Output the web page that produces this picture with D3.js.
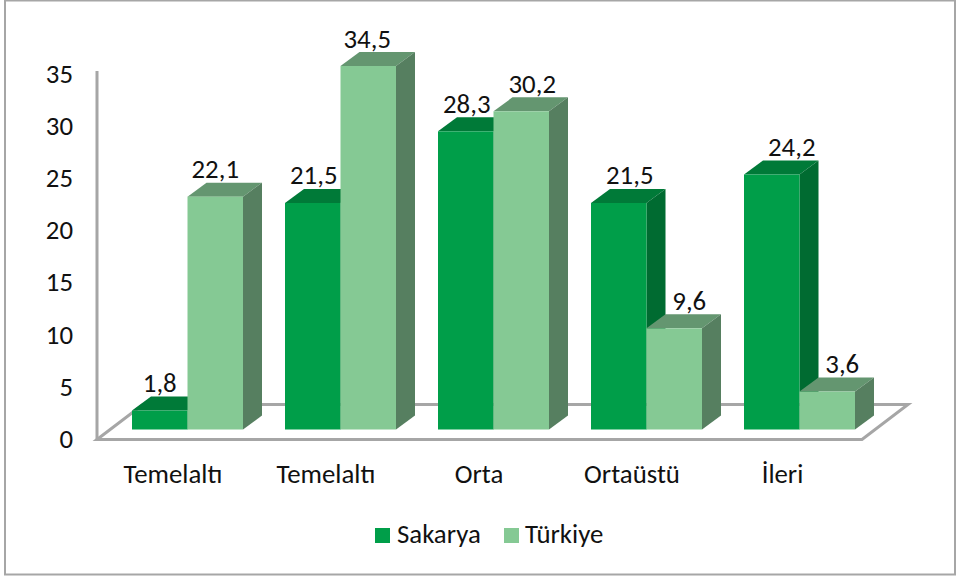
<!DOCTYPE html>
<html><head><meta charset="utf-8">
<script src="https://cdn.jsdelivr.net/npm/d3@7"></script>
<style>html,body{margin:0;background:#fff}svg{display:block}text{font-family:Carlito,Lato,"Open Sans",sans-serif;fill:#111}</style>
</head><body><svg id="c" width="957" height="579"></svg>
<script>
const categories=["Temelaltı","Temelaltı","Orta","Ortaüstü","İleri"];
const seriesNames=["Sakarya","Türkiye"];
const sakarya=[1.8,21.5,28.3,21.5,24.2];
const turkiye=[22.1,34.5,30.2,9.6,3.6];
const yTicks=[0,5,10,15,20,25,30,35];
const colors=[{front:"#009E49",side:"#006B31",top:"#007A38"},{front:"#85C994",side:"#567F60",top:"#649670"}];
const fmt=v=>String(v).replace(".",",");
const svg=d3.select("#c");
const FS=26.8;
svg.append("rect").attr("x",5).attr("y",0.5).attr("width",950).attr("height",574).attr("fill","#fff").attr("stroke","#A6A6A6").attr("stroke-width",2);
// floor
const fl={l:97,r:862,y:439.5,dx:46,dy:35};
svg.append("path").attr("d",`M${fl.l},${fl.y}L${fl.l+fl.dx},${fl.y-fl.dy}L${fl.r+fl.dx},${fl.y-fl.dy}L${fl.r},${fl.y}Z`).attr("fill","#fff").attr("stroke","#A6A6A6").attr("stroke-width",3);
svg.append("line").attr("x1",fl.l).attr("x2",fl.l).attr("y1",71).attr("y2",441).attr("stroke","#A6A6A6").attr("stroke-width",3);
// scales
const x=d3.scaleBand().domain(d3.range(categories.length)).range([fl.l,fl.r]);
const inner=d3.scaleBand().domain(d3.range(seriesNames.length)).range([35,35+111]);
const barBase=429.5;
const yBar=d3.scaleLinear().domain([0,34.5]).range([barBase,66]);
const yAxis=d3.scaleLinear().domain([0,35]).range([438.5,73.5]);
const ddx=19,ddy=14;
// axes
const ga=svg.append("g").attr("transform","translate(85,0)").call(d3.axisLeft(yAxis).tickValues(yTicks).tickSize(0).tickPadding(12));
ga.select(".domain").remove();
ga.selectAll("text").attr("font-size",FS).attr("dy","0.33em");
const gx=svg.append("g").attr("transform","translate(0,474)").call(d3.axisBottom(x).tickFormat(i=>categories[i]).tickSize(0).tickPadding(0));
gx.select(".domain").remove();
gx.selectAll("text").attr("font-size",FS).attr("dy","0.33em").attr("dx",(d,i)=>i===4?-3:-0.5);
// bars
const values=[sakarya,turkiye];
categories.forEach((c,i)=>{
  values.forEach((vals,s)=>{
    const v=vals[i],x0=x(i)+inner(s),w=inner.bandwidth(),t=yBar(v),b=barBase,col=colors[s];
    const g=svg.append("g");
    g.append("path").attr("fill",col.top).attr("d",`M${x0},${t}L${x0+ddx},${t-ddy}L${x0+w+ddx},${t-ddy}L${x0+w},${t}Z`);
    g.append("path").attr("fill",col.side).attr("d",`M${x0+w},${t}L${x0+w+ddx},${t-ddy}L${x0+w+ddx},${b-ddy}L${x0+w},${b}Z`);
    g.append("rect").attr("x",x0).attr("y",t).attr("width",w).attr("height",b-t).attr("fill",col.front);
  });
});
// labels (on top of all bars); the reference nudges some labels sideways
const labelNudge=[[0,1,1,11,20],[0,-1,11,15,15]];
categories.forEach((c,i)=>{
  values.forEach((vals,s)=>{
    const v=vals[i];
    svg.append("text").attr("x",x(i)+inner(s)+inner.bandwidth()/2+labelNudge[s][i]).attr("y",yBar(v)-18.5).attr("text-anchor","middle").attr("font-size",FS).text(fmt(v));
  });
});
// legend
const legX=[375,504],legT=[397,525];
seriesNames.forEach((n,s)=>{
  svg.append("rect").attr("x",legX[s]).attr("y",528).attr("width",15).attr("height",15).attr("fill",colors[s].front);
  svg.append("text").attr("x",legT[s]).attr("y",543).attr("font-size",FS).text(n);
});
</script></body></html>
